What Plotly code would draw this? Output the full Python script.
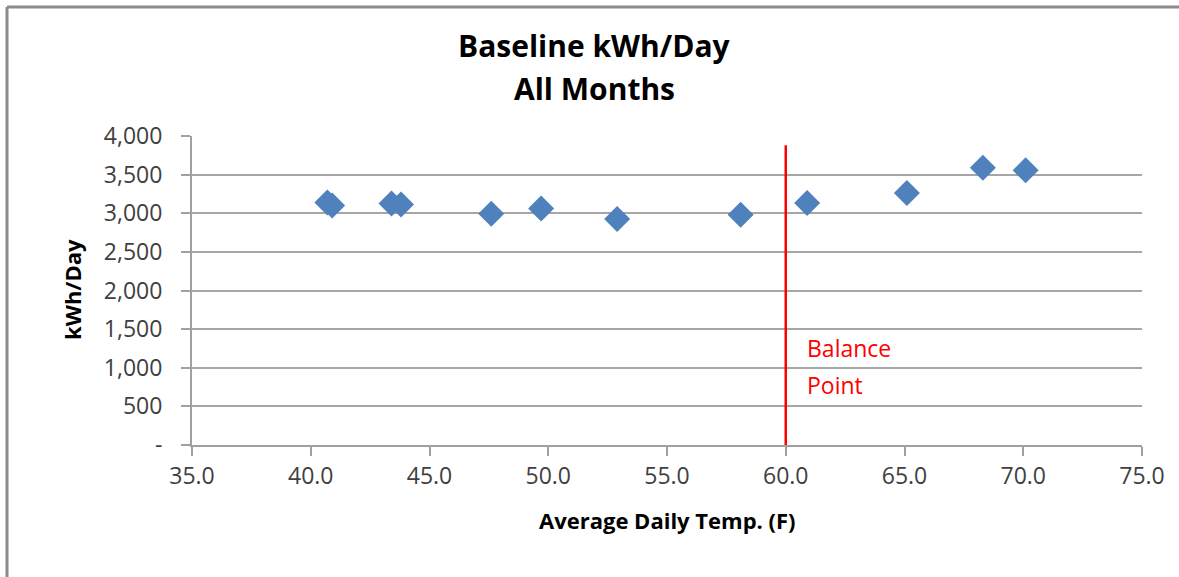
import plotly.graph_objects as go

temps = [40.7, 40.9, 43.4, 43.8, 47.6, 49.7, 52.9, 58.1, 60.9, 65.1, 68.3, 70.1]
kwh_day = [3140, 3100, 3125, 3112, 2995, 3060, 2926, 2982, 3133, 3262, 3590, 3556]
balance_x = [60.0, 60.0]
balance_y = [0, 3880]
y_ticks = [0, 500, 1000, 1500, 2000, 2500, 3000, 3500, 4000]
y_labels = ["-", "500", "1,000", "1,500", "2,000", "2,500", "3,000", "3,500", "4,000"]
x_ticks = [35, 40, 45, 50, 55, 60, 65, 70, 75]
x_labels = ["35.0", "40.0", "45.0", "50.0", "55.0", "60.0", "65.0", "70.0", "75.0"]

W, H = 1179, 577
L, R, T, B = 192, 37, 136, 132
pw, ph = W - L - R, H - T - B

def px(x):
    return (x - L) / pw

def py(y):
    return (H - B - y) / ph

FONT = "Open Sans"

fig = go.Figure()
fig.add_trace(go.Scatter(
    x=balance_x, y=balance_y, mode="lines",
    line=dict(color="#FF0000", width=2.5), hoverinfo="skip", showlegend=False,
))
fig.add_trace(go.Scatter(
    x=temps, y=kwh_day, mode="markers",
    marker=dict(symbol="diamond", size=20, color="#4F81BD", line=dict(width=0)),
    showlegend=False,
))

fig.update_layout(
    width=W, height=H,
    margin=dict(l=L, r=R, t=T, b=B),
    paper_bgcolor="white", plot_bgcolor="white",
    font=dict(family=FONT, size=23, color="#404040"),
    showlegend=False,
    xaxis=dict(
        range=[35, 75], tickvals=x_ticks, ticktext=x_labels,
        showgrid=False, zeroline=False, showline=True, linecolor="#A0A0A0", linewidth=2,
        ticks="outside", ticklen=9, tickcolor="#A0A0A0", tickwidth=2,
        tickfont=dict(size=23, color="#404040"),
    ),
    yaxis=dict(
        range=[0, 4000], tickvals=y_ticks, ticktext=y_labels,
        showgrid=True, gridcolor="#A6A6A6", gridwidth=2, zeroline=False,
        showline=True, linecolor="#A0A0A0", linewidth=2,
        ticks="outside", ticklen=9, tickcolor="#A0A0A0", tickwidth=2,
        ticklabelstandoff=14,
        tickfont=dict(size=23, color="#404040"),
    ),
    shapes=[
        dict(type="line", xref="paper", yref="paper", x0=px(7), x1=px(W + 5), y0=py(7), y1=py(7),
             line=dict(color="#8C8C8C", width=3)),
        dict(type="line", xref="paper", yref="paper", x0=px(7), x1=px(7), y0=py(7), y1=py(H + 5),
             line=dict(color="#8C8C8C", width=3)),
    ],
    annotations=[
        dict(text="<b>Baseline kWh/Day</b>", xref="paper", yref="paper", x=px(594.5), y=py(46),
             showarrow=False, xanchor="center", yanchor="middle", font=dict(size=30, color="black")),
        dict(text="<b>All Months</b>", xref="paper", yref="paper", x=px(594.5), y=py(88),
             showarrow=False, xanchor="center", yanchor="middle", font=dict(size=30, color="black")),
        dict(text="<b>Average Daily Temp. (F)</b>", xref="paper", yref="paper", x=px(667), y=py(520),
             showarrow=False, xanchor="center", yanchor="middle", font=dict(size=22, color="black")),
        dict(text="<b>kWh/Day</b>", xref="paper", yref="paper", x=px(72), y=py(290), textangle=-90,
             showarrow=False, xanchor="center", yanchor="middle", font=dict(size=22, color="black")),
        dict(text="Balance", xref="paper", yref="paper", x=px(805), y=py(348),
             showarrow=False, xanchor="left", yanchor="middle", font=dict(size=23, color="#FF0000")),
        dict(text="Point", xref="paper", yref="paper", x=px(805), y=py(385),
             showarrow=False, xanchor="left", yanchor="middle", font=dict(size=23, color="#FF0000")),
    ],
)

fig.write_html("out.html")
